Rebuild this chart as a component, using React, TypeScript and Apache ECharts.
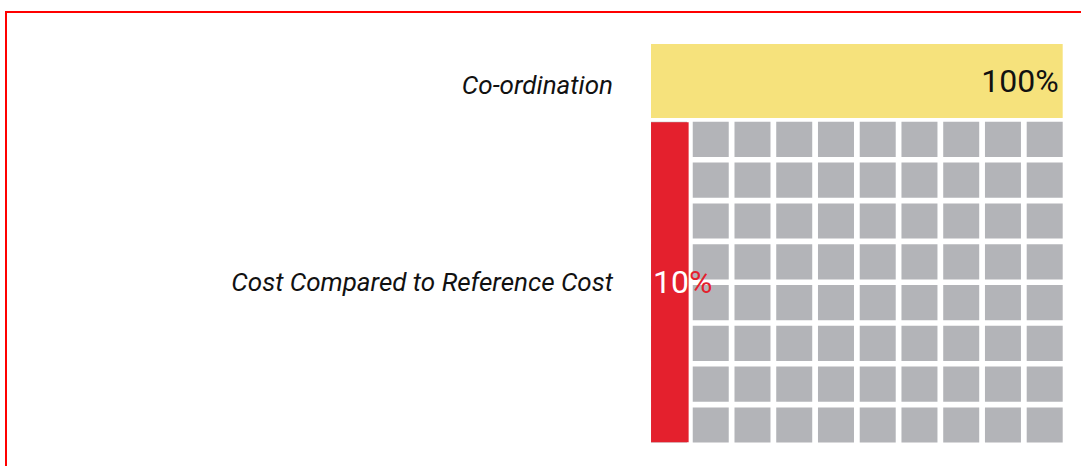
import React, { useEffect, useRef } from "react";
import * as echarts from "echarts";

const categories = ["Co-ordination", "Cost Compared to Reference Cost"];
const coordinationValues = [100];
const costValues = [10];
// reference cost grid: 8 rows, each spanning 100% split into 10 cells
const referenceRows = [100, 100, 100, 100, 100, 100, 100, 100];
const referenceRowNames = ["r1", "r2", "r3", "r4", "r5", "r6", "r7", "r8"];
const cellsPerRow = 10;

export default function App() {
  const ref = useRef<HTMLDivElement>(null);
  useEffect(() => {
    if (!ref.current) return;
    const chart = echarts.init(ref.current, undefined, { renderer: "svg" });
    const labelFont = {
      fontFamily: "Roboto",
      fontStyle: "italic" as const,
      fontSize: 26,
      color: "#111111",
    };
    chart.setOption({
      animation: false,
      textStyle: { fontFamily: "Roboto" },
      graphic: [
        {
          type: "rect",
          shape: { x: 6, y: 12, width: 1100, height: 500 },
          style: { fill: "none", stroke: "#ff0000", lineWidth: 2 },
          silent: true,
        },
      ],
      grid: [
        { left: 651, right: 18.3, top: 44, height: 74 },
        { left: 651, right: 18.3, top: 119, height: 326.4 },
      ],
      xAxis: [
        { gridIndex: 0, type: "value", min: 0, max: 100, show: false },
        { gridIndex: 1, type: "value", min: 0, max: 100, show: false },
      ],
      yAxis: [
        {
          gridIndex: 0,
          type: "category",
          data: [categories[0]],
          axisLine: { show: false },
          axisTick: { show: false },
          axisLabel: {
            ...labelFont,
            margin: 38,
            formatter: (v: string) => `{a|${v}}`,
            rich: { a: { ...labelFont, padding: [7, 0, 0, 0] } },
          },
        },
        {
          gridIndex: 1,
          type: "category",
          data: [categories[1]],
          axisLine: { show: false },
          axisTick: { show: false },
          axisLabel: { ...labelFont, margin: 38 },
        },
        {
          gridIndex: 1,
          type: "category",
          data: referenceRowNames,
          show: false,
        },
      ],
      series: [
        {
          type: "bar",
          xAxisIndex: 0,
          yAxisIndex: 0,
          data: coordinationValues,
          barWidth: "100%",
          itemStyle: { color: "#f6e27c" },
          label: {
            show: true,
            position: "insideRight",
            distance: 4,
            formatter: "{c}%",
            fontSize: 32,
            fontFamily: "Roboto",
            color: "#111111",
          },
          silent: true,
        },
        {
          type: "pictorialBar",
          xAxisIndex: 1,
          yAxisIndex: 2,
          data: referenceRows,
          symbol: "rect",
          symbolRepeat: cellsPerRow,
          symbolSize: [36, 35],
          symbolPosition: "start",
          itemStyle: { color: "#b3b4b8" },
          z: 2,
          silent: true,
        },
        {
          type: "pictorialBar",
          xAxisIndex: 1,
          yAxisIndex: 1,
          data: costValues,
          symbol: "rect",
          symbolPosition: "start",
          symbolSize: ["91.5%", 320],
          barWidth: 320,
          itemStyle: { color: "#e4202d" },
          z: 3,
          label: {
            show: true,
            position: "insideLeft",
            distance: 2,
            formatter: (p: any) => `{w|${p.value}}{r|%}`,
            rich: {
              w: { color: "#ffffff", fontSize: 32, fontFamily: "Roboto" },
              r: { color: "#e4202d", fontSize: 32, fontFamily: "Roboto" },
            },
          },
          silent: true,
        },
      ],
    });
    return () => chart.dispose();
  }, []);
  return (
    <div
      ref={ref}
      style={{ position: "fixed", left: 0, top: 0, width: 1081, height: 466, background: "#ffffff" }}
    />
  );
}
